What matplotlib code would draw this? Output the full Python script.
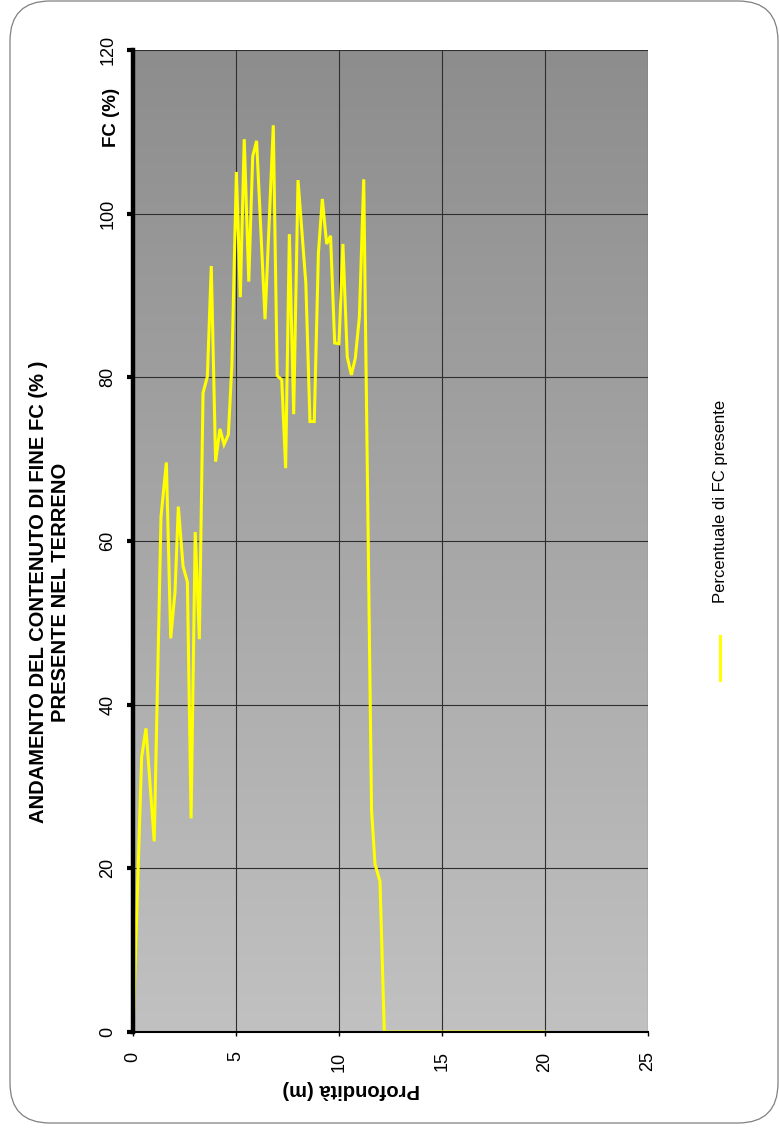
"""
plot.py
Andamento del contenuto di fine FC (%) con la profondita' - grafico ruotato come l'originale Excel.
"""

import numpy as np
import matplotlib
matplotlib.use("Agg")
import matplotlib.pyplot as plt
from matplotlib.colors import LinearSegmentedColormap
from matplotlib.patches import FancyBboxPatch
from matplotlib.lines import Line2D

plt.rcParams["font.family"] = ["Liberation Sans", "DejaVu Sans"]

# profondita' (m) e percentuale di fine FC (%)
depth = [0.0, 0.42, 0.63, 1.03, 1.36, 1.62, 1.83, 2.04, 2.2, 2.43, 2.64, 2.82,
         3.02, 3.22, 3.40, 3.61, 3.80, 4.01, 4.22, 4.42, 4.63, 4.80, 5.02, 5.21,
         5.40, 5.62, 5.81, 6.0, 6.41, 6.81, 7.0, 7.22, 7.41, 7.59, 7.80, 8.01,
         8.39, 8.59, 8.80, 9.0, 9.19, 9.40, 9.59, 9.79, 10.0, 10.19, 10.40, 10.60,
         10.79, 10.99, 11.2, 11.58, 11.75, 11.99, 12.2, 20.0]
fc = [0.0, 33.6, 37.1, 23.3, 63.0, 69.6, 48.1, 53.8, 64.2, 56.9, 55.0, 26.1,
      61.1, 48.0, 78.1, 80.1, 93.6, 69.7, 73.7, 71.8, 73.0, 81.5, 105.1, 89.8,
      109.1, 91.7, 107.0, 108.9, 87.1, 110.8, 80.2, 79.7, 68.9, 97.5, 75.5, 104.1,
      91.5, 74.6, 74.6, 95.2, 101.8, 96.3, 97.3, 84.2, 84.1, 96.3, 82.5, 80.3,
      82.3, 87.4, 104.2, 27.1, 20.5, 18.4, 0.0, 0.0]

x_ticks = [0, 5, 10, 15, 20, 25]
y_ticks = [0, 20, 40, 60, 80, 100, 120]

TITLE = "ANDAMENTO DEL CONTENUTO DI FINE FC (% )\nPRESENTE NEL TERRENO"
SERIES_NAME = "Percentuale di FC presente"


def main():
    W, H = 779, 1135
    fig = plt.figure(figsize=(W / 100, H / 100), dpi=100)
    fig.patch.set_facecolor("white")

    # cornice arrotondata attorno al grafico
    frame = FancyBboxPatch((0.1, 0.12), 7.68, 11.22,
                           boxstyle="round,pad=0,rounding_size=0.4",
                           transform=fig.dpi_scale_trans, fill=False,
                           ec="#808080", lw=0.9)
    fig.patches.append(frame)

    ax = fig.add_axes([133 / W, 1 - 1032 / H, (648 - 133) / W, (1032 - 50) / H])

    # sfondo sfumato (scuro in alto, chiaro in basso)
    cmap = LinearSegmentedColormap.from_list("bg", ["#c1c1c1", "#8d8d8d"])
    grad = np.linspace(0, 1, 256).reshape(-1, 1)
    ax.imshow(grad, cmap=cmap, origin="lower", aspect="auto",
              extent=[0, 25, 0, 120], zorder=0)

    ax.plot(depth, fc, color="#ffff00", lw=2.2, zorder=3, solid_joinstyle="miter")

    ax.set_xlim(0, 25)
    ax.set_ylim(0, 120)
    ax.set_xticks(x_ticks)
    ax.set_yticks(y_ticks)
    ax.grid(True, color="#2e2e2e", lw=0.8, zorder=1)
    for gl in ax.get_xgridlines() + ax.get_ygridlines():
        gl.set_zorder(1)

    for side in ("top", "right"):
        ax.spines[side].set_visible(False)
    ax.spines["left"].set_linewidth(3.2)
    ax.spines["bottom"].set_linewidth(1.5)
    for sp in ax.spines.values():
        sp.set_zorder(4)

    ax.tick_params(axis="y", direction="out", length=4, width=3,
                   labelrotation=90, labelsize=13, pad=8)
    ax.tick_params(axis="x", direction="out", length=3, width=1,
                   labelrotation=90, labelsize=13, pad=11)
    for lbl in ax.get_yticklabels():
        lbl.set_va("center")

    # titoli ruotati come nell'originale
    fig.text(50 / W, 1 - 592 / H, TITLE, rotation=90, ha="center", va="center",
             multialignment="center", fontsize=14.5, fontweight="bold")
    fig.text(111 / W, 1 - 117 / H, "FC (%)", rotation=90, ha="center",
             va="center", fontsize=13.5, fontweight="bold")
    fig.text(351 / W, 1 - 1090 / H, "Profondità (m)", rotation=180, ha="center",
             va="center", fontsize=14.5, fontweight="bold")

    # legenda disegnata a mano (ruotata)
    fig.add_artist(Line2D([720 / W, 720 / W], [1 - 680 / H, 1 - 636 / H],
                          color="#ffff00", lw=2.2, transform=fig.transFigure))
    fig.text(720 / W, 1 - 501 / H, SERIES_NAME, rotation=90, ha="center",
             va="center", fontsize=12)

    fig.savefig("out.png", dpi=100)
    plt.close(fig)


if __name__ == "__main__":
    main()
